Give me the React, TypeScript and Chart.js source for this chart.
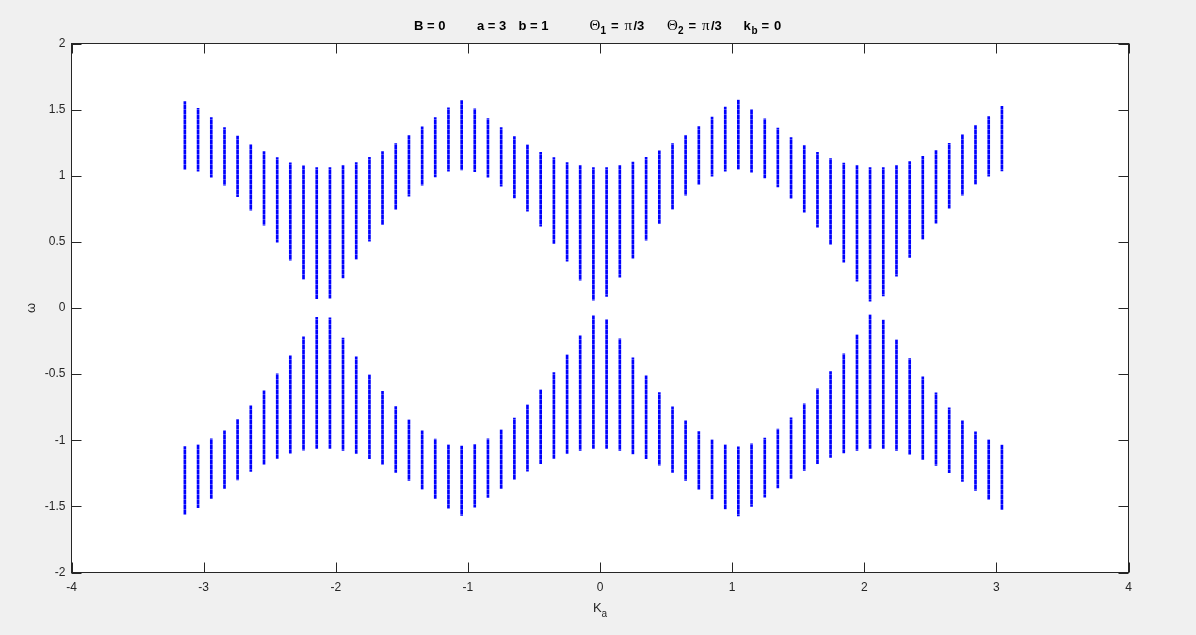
import React, { useEffect, useRef } from "react";
import { Chart, registerables } from "chart.js";

Chart.register(...registerables);

// K_a sample positions (columns)
const kValues: number[] = [
  -3.142, -3.042, -2.942, -2.842, -2.743, -2.643, -2.543, -2.443, -2.344, -2.244,
  -2.144, -2.044, -1.945, -1.845, -1.745, -1.646, -1.546, -1.446, -1.346, -1.247,
  -1.147, -1.047, -0.948, -0.848, -0.748, -0.648, -0.549, -0.449, -0.349, -0.249,
  -0.150, -0.050, 0.050, 0.150, 0.249, 0.349, 0.449, 0.549, 0.648, 0.748,
  0.848, 0.948, 1.047, 1.147, 1.247, 1.346, 1.446, 1.546, 1.646, 1.745,
  1.845, 1.945, 2.044, 2.144, 2.244, 2.344, 2.443, 2.543, 2.643, 2.743,
  2.842, 2.942, 3.042,
];

// upper band: top of each column
const upperHigh: number[] = [
  1.56, 1.51, 1.44, 1.365, 1.30, 1.236, 1.183, 1.138, 1.098, 1.075,
  1.062, 1.062, 1.077, 1.10, 1.14, 1.183, 1.244, 1.304, 1.37, 1.44,
  1.514, 1.569, 1.506, 1.433, 1.365, 1.297, 1.234, 1.178, 1.138, 1.10,
  1.077, 1.062, 1.062, 1.077, 1.103, 1.14, 1.189, 1.244, 1.304, 1.372,
  1.443, 1.519, 1.572, 1.501, 1.431, 1.36, 1.289, 1.229, 1.178, 1.13,
  1.095, 1.077, 1.062, 1.062, 1.077, 1.108, 1.146, 1.191, 1.246, 1.312,
  1.38, 1.448, 1.524,
];

// upper band: bottom of each column
const upperLow: number[] = [
  1.047, 1.035, 0.989, 0.929, 0.841, 0.740, 0.626, 0.498, 0.362, 0.218,
  0.070, 0.074, 0.228, 0.369, 0.505, 0.631, 0.745, 0.846, 0.929, 0.992,
  1.035, 1.045, 1.030, 0.989, 0.921, 0.833, 0.732, 0.619, 0.488, 0.354,
  0.210, 0.059, 0.087, 0.233, 0.377, 0.513, 0.639, 0.747, 0.853, 0.934,
  0.997, 1.035, 1.050, 1.027, 0.984, 0.916, 0.830, 0.724, 0.611, 0.480,
  0.346, 0.203, 0.051, 0.092, 0.240, 0.382, 0.520, 0.641, 0.755, 0.853,
  0.936, 0.997, 1.037,
];

// lower band: top of each column
const lowerHigh: number[] = [
  -1.047, -1.035, -0.989, -0.929, -0.841, -0.740, -0.626, -0.498, -0.362, -0.218,
  -0.070, -0.074, -0.228, -0.369, -0.505, -0.631, -0.745, -0.846, -0.929, -0.992,
  -1.035, -1.045, -1.030, -0.989, -0.921, -0.833, -0.732, -0.619, -0.488, -0.354,
  -0.210, -0.059, -0.087, -0.233, -0.377, -0.513, -0.639, -0.747, -0.853, -0.934,
  -0.997, -1.035, -1.050, -1.027, -0.984, -0.916, -0.830, -0.724, -0.611, -0.480,
  -0.346, -0.203, -0.051, -0.092, -0.240, -0.382, -0.520, -0.641, -0.755, -0.853,
  -0.936, -0.997, -1.037,
];

// lower band: bottom of each column
const lowerLow: number[] = [
  -1.56, -1.51, -1.44, -1.365, -1.30, -1.236, -1.183, -1.138, -1.098, -1.075,
  -1.062, -1.062, -1.077, -1.10, -1.14, -1.183, -1.244, -1.304, -1.37, -1.44,
  -1.514, -1.569, -1.506, -1.433, -1.365, -1.297, -1.234, -1.178, -1.138, -1.10,
  -1.077, -1.062, -1.062, -1.077, -1.103, -1.14, -1.189, -1.244, -1.304, -1.372,
  -1.443, -1.519, -1.572, -1.501, -1.431, -1.36, -1.289, -1.229, -1.178, -1.13,
  -1.095, -1.077, -1.062, -1.062, -1.077, -1.108, -1.146, -1.191, -1.246, -1.312,
  -1.38, -1.448, -1.524,
];

const xTickLabels: string[] = ["-4", "-3", "-2", "-1", "0", "1", "2", "3", "4"];
const yTickLabels: string[] = ["-2", "-1.5", "-1", "-0.5", "0", "0.5", "1", "1.5", "2"];

const AX = "#262626";
const SANS = '"Liberation Sans", Arial, Helvetica, sans-serif';
const SERIF = '"Liberation Serif", "Times New Roman", serif';

const matlabFrame = {
  id: "matlabFrame",
  beforeDraw(chart: any) {
    const { ctx, chartArea: a } = chart;
    ctx.save();
    ctx.fillStyle = "#f0f0f0";
    ctx.fillRect(0, 0, chart.width, chart.height);
    ctx.fillStyle = "#ffffff";
    ctx.fillRect(a.left, a.top, a.right - a.left, a.bottom - a.top);
    ctx.restore();
  },
  afterDraw(chart: any) {
    const { ctx, chartArea: a, scales } = chart;
    ctx.save();
    ctx.strokeStyle = AX;
    ctx.lineWidth = 1;
    const tl = 10;
    ctx.beginPath();
    scales.x.ticks.forEach((t: any) => {
      const px = Math.round(scales.x.getPixelForValue(t.value)) + 0.5;
      ctx.moveTo(px, a.bottom);
      ctx.lineTo(px, a.bottom - tl);
      ctx.moveTo(px, a.top);
      ctx.lineTo(px, a.top + tl);
    });
    scales.y.ticks.forEach((t: any) => {
      const py = Math.round(scales.y.getPixelForValue(t.value)) + 0.5;
      ctx.moveTo(a.left, py);
      ctx.lineTo(a.left + tl, py);
      ctx.moveTo(a.right, py);
      ctx.lineTo(a.right - tl, py);
    });
    ctx.stroke();
    ctx.strokeRect(a.left, a.top, a.right - a.left, a.bottom - a.top);

    // Title with subscripts (pieces placed like the TeX-rendered MATLAB title)
    ctx.fillStyle = "#000000";
    ctx.textAlign = "left";
    ctx.textBaseline = "alphabetic";
    const B = "bold 13px " + SANS;
    const SUB = "bold 10px " + SANS;
    const SYM = "15px " + SERIF;
    const base = 30;
    const put = (x: number, text: string, font: string, dy = 0) => {
      ctx.font = font;
      ctx.fillText(text, x, base + dy);
    };
    put(414, "B = 0", B);
    put(477, "a = 3", B);
    put(518.5, "b = 1", B);
    const thetaGroup = (x0: number, sub: string) => {
      put(x0, "Θ", SYM);
      put(x0 + 11, sub, SUB, 4);
      put(x0 + 21.5, "=", B);
      put(x0 + 35, "π", SYM);
      put(x0 + 44, "/3", B);
    };
    thetaGroup(589.5, "1");
    thetaGroup(667, "2");
    put(743.5, "k", B);
    put(751.5, "b", SUB, 4);
    put(761.5, "=", B);
    put(774, "0", B);

    // x label K_a
    ctx.fillStyle = AX;
    const cxl = (a.left + a.right) / 2;
    ctx.font = "13px " + SANS;
    const kw = ctx.measureText("K").width;
    ctx.font = "10px " + SANS;
    const aw = ctx.measureText("a").width;
    const startX = cxl - (kw + aw) / 2;
    ctx.font = "13px " + SANS;
    ctx.fillText("K", startX, 612);
    ctx.font = "10px " + SANS;
    ctx.fillText("a", startX + kw, 617);

    // y label omega
    ctx.translate(31, (a.top + a.bottom) / 2);
    ctx.rotate(-Math.PI / 2);
    ctx.textAlign = "center";
    ctx.textBaseline = "middle";
    ctx.font = "13px " + SANS;
    ctx.fillText("ω", 0, 0);
    ctx.restore();
  },
};

function makeDotPattern(): CanvasPattern | string {
  const c = document.createElement("canvas");
  c.width = 4;
  c.height = 5;
  const g = c.getContext("2d");
  if (!g) return "#0000ff";
  g.fillStyle = "#0000ff";
  g.fillRect(0, 0, 4, 4);
  g.fillStyle = "#4d4dff";
  g.fillRect(0, 4, 4, 1);
  const p = g.createPattern(c, "repeat");
  return p || "#0000ff";
}

export default function App() {
  const canvasRef = useRef<HTMLCanvasElement | null>(null);

  useEffect(() => {
    const canvas = canvasRef.current;
    if (!canvas) return;
    const fill = makeDotPattern();
    const upper = kValues.map((k, i) => ({ x: k, y: [upperLow[i], upperHigh[i]] }));
    const lower = kValues.map((k, i) => ({ x: k, y: [lowerLow[i], lowerHigh[i]] }));
    const chart = new Chart(canvas, {
      type: "bar",
      data: {
        datasets: [
          { data: upper as any, backgroundColor: fill, borderWidth: 0, barThickness: 2, grouped: false } as any,
          { data: lower as any, backgroundColor: fill, borderWidth: 0, barThickness: 2, grouped: false } as any,
        ],
      },
      options: {
        animation: false,
        responsive: true,
        maintainAspectRatio: false,
        layout: { padding: { left: 0, top: 43.5, right: 67.5, bottom: 0 } },
        plugins: { legend: { display: false }, tooltip: { enabled: false }, title: { display: false } },
        scales: {
          x: {
            type: "linear",
            min: -4,
            max: 4,
            offset: false,
            grid: { display: false, drawTicks: false, offset: false },
            border: { display: false },
            ticks: {
              stepSize: 1,
              maxRotation: 0,
              autoSkip: false,
              padding: 8,
              color: AX,
              font: { family: SANS, size: 12 },
              callback: (v: any) => xTickLabels[Math.round(Number(v)) + 4] ?? String(v),
            },
            afterFit: (s: any) => {
              s.height = 62.5;
            },
          },
          y: {
            type: "linear",
            min: -2,
            max: 2,
            grid: { display: false, drawTicks: false },
            border: { display: false },
            ticks: {
              stepSize: 0.5,
              padding: 6,
              autoSkip: false,
              color: AX,
              font: { family: SANS, size: 12 },
              callback: (v: any) => yTickLabels[Math.round((Number(v) + 2) * 2)] ?? String(v),
            },
            afterFit: (s: any) => {
              s.width = 71.5;
            },
          },
        },
      },
      plugins: [matlabFrame],
    });
    return () => chart.destroy();
  }, []);

  return (
    <div style={{ position: "fixed", left: 0, top: 0, width: 1196, height: 635, background: "#f0f0f0" }}>
      <canvas ref={canvasRef} width={1196} height={635} />
    </div>
  );
}
